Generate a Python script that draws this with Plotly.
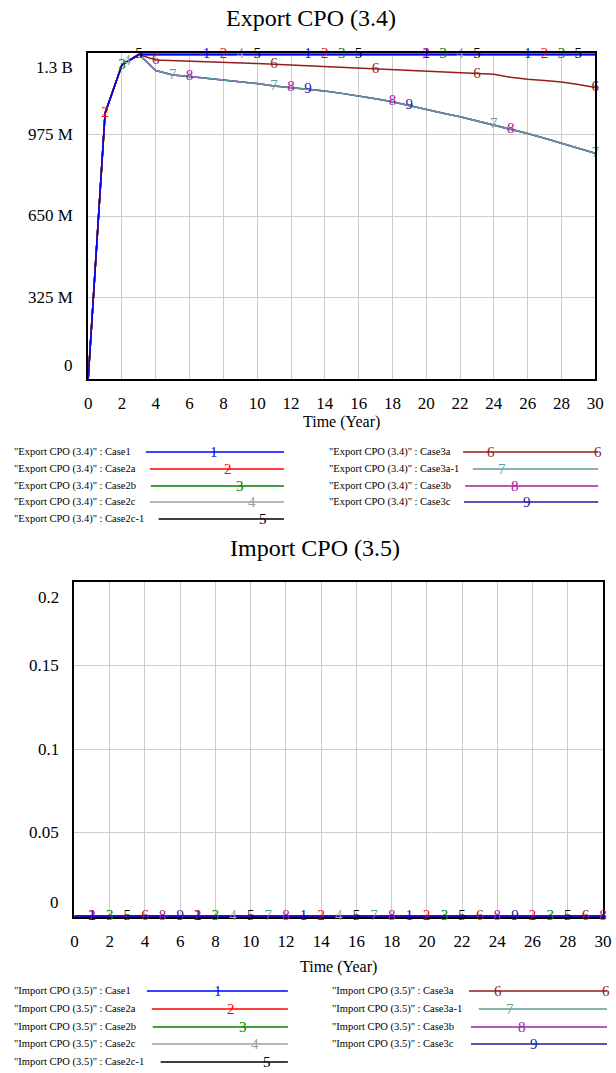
import numpy as np
import plotly.graph_objects as go

W, H = 616, 1073
SERIF = "Liberation Serif"

years = list(range(31))

cases = ["Case1", "Case2a", "Case2b", "Case2c", "Case2c-1",
         "Case3a", "Case3a-1", "Case3b", "Case3c"]
colors = ["#0000FF", "#FF0000", "#008000", "#A0A0A0", "#000000",
          "#931E1E", "#5E9C98", "#A020A0", "#1E1E9E"]

# Export CPO (3.4), millions
export_flat = [0, 1060, 1253, 1294, 1294, 1294, 1294, 1294, 1294, 1294, 1294,
               1294, 1294, 1294, 1294, 1294, 1294, 1294, 1294, 1294, 1294,
               1294, 1294, 1294, 1294, 1294, 1294, 1294, 1294, 1294, 1294]
export_case3a = [0, 1060, 1253, 1294, 1272, 1270, 1268, 1266, 1264, 1261, 1258,
                 1255, 1252, 1249, 1246, 1243, 1240, 1236, 1233, 1230, 1227,
                 1223, 1220, 1217, 1215, 1203, 1195, 1190, 1184, 1174, 1162]
export_case3a1 = [0, 1060, 1253, 1294, 1230, 1212, 1206, 1199, 1193, 1187, 1178,
                  1168, 1162, 1155, 1148, 1139, 1130, 1118, 1106, 1090, 1073,
                  1060, 1046, 1030, 1014, 995, 979, 960, 940, 920, 900]
export_series = [export_flat, export_flat, export_flat, export_flat, export_flat,
                 export_case3a, export_case3a1, export_case3a1, export_case3a1]
export_ticks = [0, 325e6, 650e6, 975e6, 1.3e9]
export_ticktext = ["0", "325 M", "650 M", "975 M", "1.3 B"]
export_mark_years = [[7, 13, 20, 26], [1, 8, 14, 20, 27], [2, 15, 21, 28],
                     [2.3, 9, 22], [3, 10, 16, 23, 29], [4, 11, 17, 23, 30],
                     [5, 11, 24, 30], [6, 12, 18, 25], [13, 19]]

# Import CPO (3.5)
import_zero = [0, 0, 0, 0, 0, 0, 0, 0, 0, 0, 0, 0, 0, 0, 0, 0,
               0, 0, 0, 0, 0, 0, 0, 0, 0, 0, 0, 0, 0, 0, 0]
import_ticks = [0, 0.05, 0.1, 0.15, 0.2]
import_ticktext = ["0", "0.05", "0.1", "0.15", "0.2"]
import_mark_years = [[1, 7, 13, 19], [1, 7, 14, 20, 26], [2, 8, 21, 27],
                     [9, 15], [3, 10, 16, 22, 28], [4, 23, 29], [11, 17],
                     [5, 12, 18, 24, 30], [6, 25]]


def px(x):
    return x / W


def py(y):
    return 1 - y / H


fig = go.Figure()

# Vensim draws the last case first, so case 1 ends on top
for i in reversed(range(len(cases))):
    vals = np.array(export_series[i]) * 1e6
    fig.add_trace(go.Scatter(x=years, y=vals, mode="lines",
                             line=dict(color=colors[i], width=1.5),
                             xaxis="x", yaxis="y", hoverinfo="skip"))
for i in reversed(range(len(cases))):
    vals = np.array(export_series[i]) * 1e6
    mx = export_mark_years[i]
    fig.add_trace(go.Scatter(x=mx, y=np.interp(mx, years, vals), mode="text",
                             text=[str(i + 1)] * len(mx), cliponaxis=False,
                             textfont=dict(family=SERIF, size=15, color=colors[i]),
                             xaxis="x", yaxis="y", hoverinfo="skip"))

for i in reversed(range(len(cases))):
    fig.add_trace(go.Scatter(x=years, y=import_zero, mode="lines",
                             line=dict(color=colors[i], width=1.5),
                             xaxis="x2", yaxis="y2", hoverinfo="skip"))
for i in reversed(range(len(cases))):
    mx = import_mark_years[i]
    fig.add_trace(go.Scatter(x=mx, y=np.interp(mx, years, import_zero), mode="text",
                             text=[str(i + 1)] * len(mx), cliponaxis=False,
                             textfont=dict(family=SERIF, size=15, color=colors[i]),
                             xaxis="x2", yaxis="y2", hoverinfo="skip"))

axis_common = dict(showgrid=True, gridcolor="#CCCCCC", gridwidth=1,
                   showline=True, mirror=True, linecolor="black", linewidth=2,
                   zeroline=False, fixedrange=True)
xaxis_common = dict(axis_common, range=[0, 30], tickvals=list(range(0, 31, 2)),
                    ticks="outside", ticklen=8, tickcolor="rgba(0,0,0,0)",
                    tickfont=dict(family=SERIF, size=17, color="black"))

fig.update_layout(
    width=W, height=H,
    margin=dict(l=0, r=0, t=0, b=0),
    paper_bgcolor="white", plot_bgcolor="white",
    showlegend=False,
    xaxis=dict(xaxis_common, domain=[px(86), px(604)], anchor="y"),
    yaxis=dict(axis_common, domain=[py(379), py(53)], anchor="x",
               range=[0, 1.3e9], tickvals=export_ticks, showticklabels=False),
    xaxis2=dict(xaxis_common, domain=[px(72), px(612)], anchor="y2",
                layer="below traces"),
    yaxis2=dict(axis_common, domain=[py(917), py(582)], anchor="x2",
                range=[-0.0006, 0.2], tickvals=import_ticks,
                showticklabels=False, layer="below traces"),
)

annotations = []
shapes = []


def text(x, y, s, size, color="black", anchor="center", **kw):
    annotations.append(dict(x=x, y=y, xref="paper", yref="paper", text=s,
                            showarrow=False, xanchor=anchor, yanchor="middle",
                            font=dict(family=SERIF, size=size, color=color), **kw))


# titles and axis titles
text(px(314), py(18), "Export CPO (3.4)", 24)
text(px(345), py(422), "Time (Year)", 16)
text(px(318), py(548), "Import CPO (3.5)", 24)
text(px(342), py(967), "Time (Year)", 16)

# y tick labels, end ones pulled inside like the original
for yref, x_axis, ticks, labels in [("y", 86, export_ticks, export_ticktext),
                                    ("y2", 72, import_ticks, import_ticktext)]:
    for k, (v, lab) in enumerate(zip(ticks, labels)):
        shift = 14 if k == 0 else (-15 if k == len(ticks) - 1 else 0)
        annotations.append(dict(x=px(x_axis), y=v, xref="paper", yref=yref,
                                text=lab, showarrow=False, xanchor="right",
                                yanchor="middle", xshift=-13, yshift=shift,
                                font=dict(family=SERIF, size=17, color="black")))

# legends
legend_specs = [
    ("Export CPO (3.4)", [452, 469, 486, 502, 519], 8, 286,
     [145, 149, 150, 149, 158], [[215], [229], [241], [253], [265]],
     330, 607, [469, 479, 471, 470], [[498, 607], [509], [522], [534]]),
    ("Import CPO (3.5)", [991, 1009, 1027, 1044, 1062], 8, 290,
     [146, 151, 152, 151, 160], [[219], [232], [244], [256], [269]],
     333, 616, [475, 485, 477, 477], [[505, 615], [517], [529], [541]]),
]
for name, rows, lx, lend, lstarts, lnums, rx, rend, rstarts, rnums in legend_specs:
    entries = []
    for k in range(5):
        entries.append((lx, rows[k], lstarts[k], lend, lnums[k], k))
    for k in range(4):
        entries.append((rx, rows[k], rstarts[k], rend, rnums[k], 5 + k))
    for tx, ry, x0, x1, nums, ci in entries:
        text(px(tx), py(ry), f'"{name}" : {cases[ci]}', 10.5, anchor="left")
        shapes.append(dict(type="line", xref="paper", yref="paper",
                           x0=px(x0), x1=px(x1), y0=py(ry), y1=py(ry),
                           line=dict(color=colors[ci], width=1.5)))
        for nx in nums:
            text(px(nx), py(ry), str(ci + 1), 15, color=colors[ci])

fig.update_layout(annotations=annotations, shapes=shapes)

# the page body has a default 8px margin; drop it so the figure fills the window
fig.write_html("out.html",
               config={"displayModeBar": False},
               post_script="document.body.style.margin='0';"
                           "document.body.style.overflow='hidden';")
